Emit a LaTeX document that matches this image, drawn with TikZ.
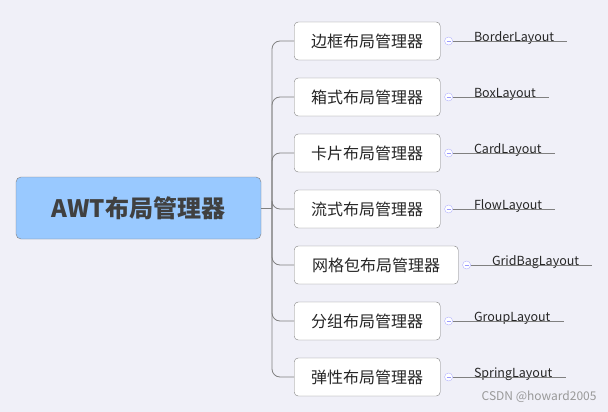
\documentclass[tikz,border=0pt]{standalone}
\usepackage{fontspec}
\setmainfont{Noto Sans CJK SC}
\usetikzlibrary{positioning}
\definecolor{bg}{HTML}{F0F0F8}
\definecolor{rootfill}{HTML}{99C9FF}
\definecolor{linecol}{HTML}{808080}
\def\childlist{{41/border/边框布局管理器/BorderLayout/146}, {97/box/箱式布局管理器/BoxLayout/146},
  {153/card/卡片布局管理器/CardLayout/146}, {209/flow/流式布局管理器/FlowLayout/146},
  {265/grid/网格包布局管理器/GridBagLayout/164}, {321/group/分组布局管理器/GroupLayout/146},
  {377/spring/弹性布局管理器/SpringLayout/146}}
\tikzset{
  rootbox/.style={draw=linecol,fill=rootfill,rounded corners=5pt,minimum width=245pt,
    minimum height=62pt,font=\fontsize{24}{26}\selectfont\bfseries,text=black!75},
  childbox/.style={draw=linecol,fill=white,rounded corners=4pt,
    minimum height=38pt,anchor=west,font=\fontsize{16}{18}\selectfont,text=black!85},
  toggle/.style={circle,draw=blue!30,fill=white,inner sep=0pt,minimum size=8pt},
  leaf/.style={font=\fontsize{12.5}{14}\selectfont,text=black!85,anchor=south west,inner sep=1pt},
  link/.style={draw=linecol,line width=0.8pt}
}
\begin{document}
\begin{tikzpicture}[x=1pt,y=-1pt]
  \fill[bg] (0,0) rectangle (608,412);
  \useasboundingbox (0,0) rectangle (608,412);
  \node[rootbox] (root) at (138.5,208) {AWT布局管理器};
  \coordinate (fork) at (272,208);
  \path[link] (root.east) -- (fork);
  % children with their leaves
  \foreach \y/\name/\txt/\lf/\w in \childlist {
    \node[childbox,minimum width=\w pt] (\name) at (294,\y) {\txt};
    \path[link,rounded corners=8pt] (fork) |- (\name.west);
    \node[toggle,right=4pt of \name] (\name-t) {};
    \node[leaf] (\name-l) at ([xshift=20pt,yshift=-5pt]\name-t.east) {\lf};
    \coordinate (\name-e) at ([xshift=12pt]\name-l.east |- \name-t);
    \path[link] (\name-t) -- (\name-e);
    \draw[blue!40,line width=0.6pt] ([xshift=-2pt]\name-t.center) -- ([xshift=2pt]\name-t.center);
  }
  \node[text=gray!80,font=\fontsize{12}{14}\selectfont,anchor=east] (mark) at (600,397) {CSDN @howard2005};
\end{tikzpicture}
\end{document}
